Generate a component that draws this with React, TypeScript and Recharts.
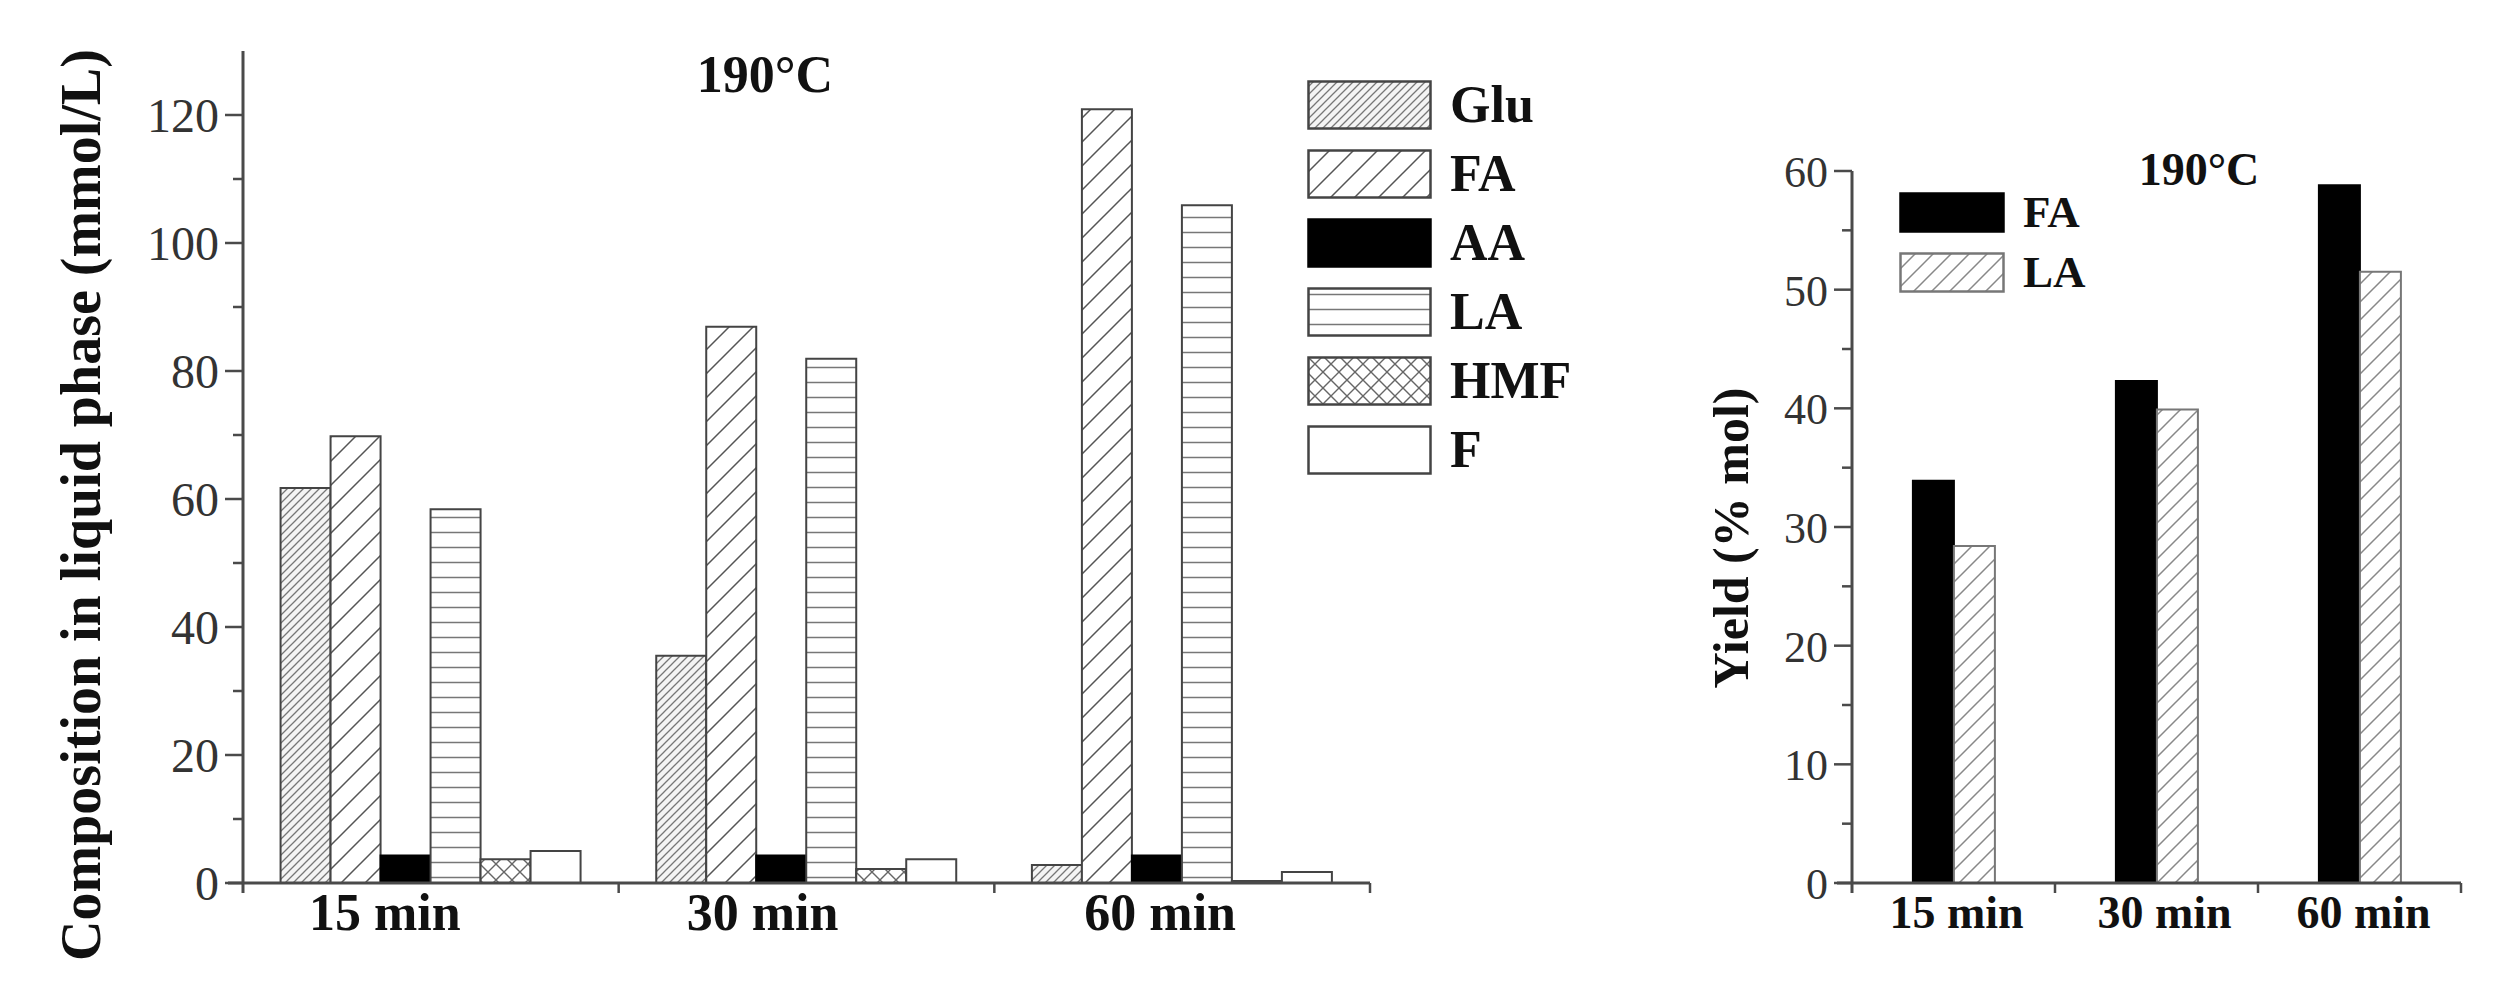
import React from "react"
import { BarChart, Bar, XAxis, YAxis, Legend } from "recharts"

// left panel: composition of liquid phase (mmol/L)
const categories = ["15 min", "30 min", "60 min"]
const glu = [61.7, 35.5, 2.8]
const fa = [69.8, 86.9, 120.9]
const aa = [4.3, 4.3, 4.3]
const la = [58.4, 81.9, 105.9]
const hmf = [3.7, 2.2, 0.3]
const furfural = [5.0, 3.7, 1.7]
const compTicks = [0, 10, 20, 30, 40, 50, 60, 70, 80, 90, 100, 110, 120]

// right panel: yield (% mol)
const yieldFA = [33.9, 42.3, 58.8]
const yieldLA = [28.4, 39.9, 51.5]
const yieldTicks = [0, 5, 10, 15, 20, 25, 30, 35, 40, 45, 50, 55, 60]

const FONT = '"Liberation Serif", "Times New Roman", serif'
const AXIS = "#4a4a4a"

const compData = categories.map((name, i) => ({
  name,
  Glu: glu[i],
  FA: fa[i],
  AA: aa[i],
  LA: la[i],
  HMF: hmf[i],
  F: furfural[i],
}))

const yieldData = categories.map((name, i) => ({ name, FA: yieldFA[i], LA: yieldLA[i] }))

const compSeries = [
  { key: "Glu", fill: "url(#pGlu)", stroke: "#444" },
  { key: "FA", fill: "url(#pFA)", stroke: "#444" },
  { key: "AA", fill: "#000", stroke: "#000" },
  { key: "LA", fill: "url(#pLA)", stroke: "#444" },
  { key: "HMF", fill: "url(#pHMF)", stroke: "#444" },
  { key: "F", fill: "#fff", stroke: "#444" },
]

const yieldSeries = [
  { key: "FA", fill: "#000", stroke: "#000" },
  { key: "LA", fill: "url(#pYLA)", stroke: "#777" },
]

function Patterns() {
  return (
    <svg width={0} height={0} style={{ position: "absolute" }}>
      <defs>
        <pattern id="pGlu" patternUnits="userSpaceOnUse" width={8} height={8}>
          <rect width={8} height={8} fill="#f4f4f4" />
          <path d="M-2,2 l4,-4 M0,8 l8,-8 M6,10 l4,-4" stroke="#777" strokeWidth={1.3} />
        </pattern>
        <pattern id="pFA" patternUnits="userSpaceOnUse" width={24} height={24}>
          <rect width={24} height={24} fill="#fff" />
          <path d="M-6,6 l12,-12 M0,24 l24,-24 M18,30 l12,-12" stroke="#555" strokeWidth={1.5} />
        </pattern>
        <pattern id="pLA" patternUnits="userSpaceOnUse" width={10} height={15}>
          <rect width={10} height={15} fill="#fff" />
          <path d="M0,7.5 h10" stroke="#777" strokeWidth={1.5} />
        </pattern>
        <pattern id="pHMF" patternUnits="userSpaceOnUse" width={16} height={16}>
          <rect width={16} height={16} fill="#fff" />
          <path d="M-4,4 l8,-8 M0,16 l16,-16 M12,20 l8,-8 M-4,12 l8,8 M0,0 l16,16 M12,-4 l8,8" stroke="#666" strokeWidth={1.4} />
        </pattern>
        <pattern id="pYLA" patternUnits="userSpaceOnUse" width={18} height={18}>
          <rect width={18} height={18} fill="#fff" />
          <path d="M-4.5,4.5 l9,-9 M0,18 l18,-18 M13.5,22.5 l9,-9" stroke="#888" strokeWidth={1.5} />
        </pattern>
      </defs>
    </svg>
  )
}

function YTick(props: any) {
  const { x, y, payload, every, fontSize } = props
  const major = payload.value % every === 0
  return (
    <g>
      <line x1={x - (major ? 18 : 10)} x2={x} y1={y} y2={y} stroke={AXIS} strokeWidth={2.5} />
      {major && (
        <text x={x - 24} y={y} dy="0.36em" textAnchor="end" fontFamily={FONT} fontSize={fontSize} fill="#333">
          {payload.value}
        </text>
      )}
    </g>
  )
}

function XTick(props: any) {
  const { x, y, payload, index, band, shift, fontSize, baseline } = props
  const left = x - band / 2
  return (
    <g>
      <line x1={x + band / 2} x2={x + band / 2} y1={y} y2={y + 10} stroke={AXIS} strokeWidth={2.5} />
      {index === 0 && (
        <>
          <line x1={left} x2={left} y1={y} y2={y + 10} stroke={AXIS} strokeWidth={3} />
          <line x1={left - 15} x2={left} y1={y} y2={y} stroke={AXIS} strokeWidth={3} />
        </>
      )}
      <text x={x + shift[index]} y={y + baseline} textAnchor="middle" fontFamily={FONT} fontWeight="bold" fontSize={fontSize} fill="#111">
        {payload.value}
      </text>
    </g>
  )
}

function legendContent(series: typeof compSeries, boxW: number, boxH: number, gap: number, fontSize: number) {
  return () => (
    <div style={{ display: "flex", flexDirection: "column", gap }}>
      {series.map((s) => (
        <div key={s.key} style={{ display: "flex", alignItems: "center", height: boxH }}>
          <svg width={boxW} height={boxH} style={{ display: "block" }}>
            <rect x={1.5} y={1.5} width={boxW - 3} height={boxH - 3} fill={s.fill} stroke={s.stroke} strokeWidth={2.5} />
          </svg>
          <span style={{ marginLeft: 18, fontFamily: FONT, fontWeight: "bold", fontSize, color: "#111", lineHeight: 1 }}>
            {s.key}
          </span>
        </div>
      ))}
    </div>
  )
}

const abs = (left: number, top: number): React.CSSProperties => ({ position: "absolute", left, top })

export default function App() {
  const leftBand = 1127 / 3
  const rightBand = 609 / 3
  return (
    <div style={{ position: "absolute", left: 0, top: 0, width: 2504, height: 996, background: "#fff", fontFamily: FONT, overflow: "hidden" }}>
      <Patterns />

      <div style={abs(0, 0)}>
        <BarChart width={1400} height={996} data={compData} margin={{ top: 51, right: 30, bottom: 53, left: 143 }} barCategoryGap="10%" barGap={0}>
          <XAxis
            dataKey="name"
            height={60}
            axisLine={{ stroke: AXIS, strokeWidth: 3 }}
            tickLine={false}
            tickSize={0}
            tickMargin={0}
            interval={0}
            tick={<XTick band={leftBand} shift={[-46, -44, -22]} fontSize={52} baseline={47} />}
          />
          <YAxis
            type="number"
            domain={[0, 130]}
            ticks={compTicks}
            width={100}
            axisLine={{ stroke: AXIS, strokeWidth: 3 }}
            tickLine={false}
            tickSize={0}
            tickMargin={0}
            interval={0}
            tick={<YTick every={20} fontSize={48} />}
          />
          <Legend
            layout="vertical"
            align="center"
            verticalAlign="middle"
            wrapperStyle={{ left: 1307, top: 80, width: "auto" }}
            content={legendContent(compSeries, 125, 50, 19, 52)}
          />
          {compSeries.map((s) => (
            <Bar key={s.key} dataKey={s.key} fill={s.fill} stroke={s.stroke} strokeWidth={2} isAnimationActive={false} />
          ))}
        </BarChart>
      </div>

      <div style={{ ...abs(81, 505), transform: "translate(-50%, -50%) rotate(-90deg)", whiteSpace: "nowrap", fontWeight: "bold", fontSize: 56, color: "#111", lineHeight: 1 }}>
        Composition in liquid phase (mmol/L)
      </div>
      <div style={{ ...abs(765, 75), transform: "translate(-50%, -50%)", whiteSpace: "nowrap", fontWeight: "bold", fontSize: 52, color: "#111", lineHeight: 1 }}>
        190°C
      </div>

      <div style={abs(1600, 0)}>
        <BarChart width={900} height={996} data={yieldData} margin={{ top: 171, right: 39, bottom: 53, left: 152 }} barCategoryGap="30%" barGap={0}>
          <XAxis
            dataKey="name"
            height={60}
            axisLine={{ stroke: AXIS, strokeWidth: 3 }}
            tickLine={false}
            tickSize={0}
            tickMargin={0}
            interval={0}
            tick={<XTick band={rightBand} shift={[3, 8, 4]} fontSize={46} baseline={45} />}
          />
          <YAxis
            type="number"
            domain={[0, 60]}
            ticks={yieldTicks}
            width={100}
            axisLine={{ stroke: AXIS, strokeWidth: 3 }}
            tickLine={false}
            tickSize={0}
            tickMargin={0}
            interval={0}
            tick={<YTick every={10} fontSize={44} />}
          />
          <Legend
            layout="vertical"
            align="center"
            verticalAlign="middle"
            wrapperStyle={{ left: 299, top: 192, width: "auto" }}
            content={legendContent(yieldSeries, 106, 41, 19, 45)}
          />
          {yieldSeries.map((s) => (
            <Bar key={s.key} dataKey={s.key} fill={s.fill} stroke={s.stroke} strokeWidth={2} isAnimationActive={false} />
          ))}
        </BarChart>
      </div>

      <div style={{ ...abs(1731, 538), transform: "translate(-50%, -50%) rotate(-90deg)", whiteSpace: "nowrap", fontWeight: "bold", fontSize: 50, color: "#111", lineHeight: 1 }}>
        Yield (% mol)
      </div>
      <div style={{ ...abs(2199, 170), transform: "translate(-50%, -50%)", whiteSpace: "nowrap", fontWeight: "bold", fontSize: 46, color: "#111", lineHeight: 1 }}>
        190°C
      </div>
    </div>
  )
}
